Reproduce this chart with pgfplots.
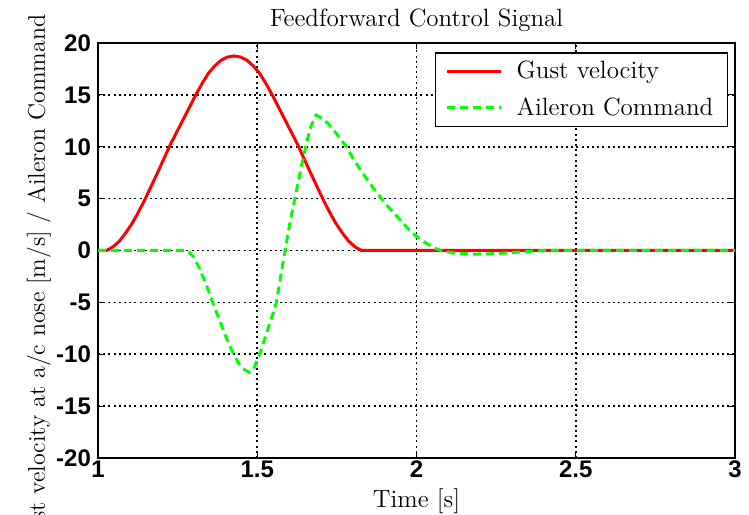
\documentclass[border=0pt]{standalone}
\usepackage{fontspec}
\usepackage{pgfplots}
\pgfplotsset{compat=1.18}
\newfontfamily\ticksf{Liberation Sans}

\definecolor{gustred}{RGB}{255,0,0}
\definecolor{ailgreen}{RGB}{0,255,0}

\begin{document}
\begin{tikzpicture}
\begin{axis}[
    scale only axis,
    width=318.5pt, height=207.5pt,
    xmin=1, xmax=3, ymin=-20, ymax=20,
    xtick={1,1.5,2,2.5,3},
    ytick={-20,-15,...,20},
    grid=major,
    major grid style={black, line width=0.8pt, dash pattern=on 1pt off 1.6pt},
    axis line style={black, line width=0.8pt},
    tick style={black, line width=0.6pt},
    major tick length=3pt,
    tick align=inside,
    /pgf/number format/assume math mode=true,
    tick label style={font=\ticksf\bfseries\fontsize{12}{14}\selectfont},
    xticklabel style={yshift=2pt},
    title={Feedforward Control Signal},
    title style={font=\fontsize{12.5}{15}\selectfont, at={(axis description cs:0.5,1)}, anchor=base, yshift=2pt},
    xlabel={Time [s]},
    xlabel style={font=\fontsize{12.5}{15}\selectfont, at={(axis description cs:0.5,-0.105)}, anchor=center},
    ylabel={Gust velocity at a/c nose [m/s] / Aileron Command},
    ylabel style={font=\fontsize{12}{14}\selectfont, at={(axis description cs:-0.093,1.085)}, anchor=east},
    legend style={at={(axis description cs:0.989,0.978)}, anchor=north east,
        draw=black, line width=0.75pt, fill=white,
        font=\fontsize{12.5}{15}\selectfont,
        inner xsep=5pt, inner ysep=2pt, row sep=4pt, cells={anchor=west}},
    legend image code/.code={\draw[#1] (0pt,0pt) -- (27pt,0pt); \path (32pt,0pt);},
]
% gust velocity
\addplot[gustred, line width=1.5pt] coordinates {
(1.0,0) (1.027,0) (1.047,0.35) (1.067,0.9) (1.087,1.7) (1.107,2.6)
(1.127,3.7) (1.147,4.9) (1.167,6.2) (1.187,7.5) (1.207,8.85)
(1.227,10.2) (1.247,11.4) (1.267,12.6) (1.287,13.8) (1.307,15.0)
(1.327,16.1) (1.347,17.1) (1.367,17.8) (1.387,18.35) (1.407,18.65)
(1.427,18.75) (1.447,18.65) (1.467,18.35) (1.487,17.8) (1.507,17.1)
(1.527,16.1) (1.547,15.0) (1.567,13.8) (1.587,12.6) (1.607,11.4)
(1.627,10.2) (1.647,8.85) (1.667,7.5) (1.687,6.2) (1.707,4.9)
(1.727,3.7) (1.747,2.6) (1.767,1.7) (1.787,0.9) (1.807,0.35)
(1.827,0) (2.5,0) (3.0,0)
};
\addlegendentry{Gust velocity}
% aileron command
\addplot[ailgreen, line width=1.5pt, dash pattern=on 4pt off 2.5pt] coordinates {
(1.0,0) (1.28,0) (1.30,-0.6) (1.32,-1.8) (1.34,-3.3) (1.36,-5.0)
(1.38,-6.6) (1.40,-8.2) (1.42,-9.6) (1.44,-10.8) (1.46,-11.5)
(1.475,-11.75) (1.49,-11.3) (1.51,-9.8) (1.53,-7.9) (1.55,-6.0)
(1.56,-5.0) (1.57,-3.2) (1.58,-1.3) (1.59,0.5) (1.60,2.2) (1.61,3.8)
(1.62,5.3) (1.63,6.8) (1.64,8.3) (1.65,9.7) (1.66,11.0) (1.67,12.1)
(1.685,13.05) (1.70,12.8) (1.72,12.3) (1.74,11.6) (1.76,10.8)
(1.78,10.0) (1.80,8.9) (1.83,7.5) (1.86,6.2) (1.89,5.0) (1.92,3.9)
(1.95,2.9) (1.98,1.9) (2.00,1.35) (2.03,0.7) (2.06,0.2) (2.08,-0.05)
(2.12,-0.25) (2.18,-0.35) (2.25,-0.3) (2.32,-0.15) (2.40,0) (3.0,0)
};
\addlegendentry{Aileron Command}
\coordinate (sw) at (rel axis cs:0,0);
\coordinate (ne) at (rel axis cs:1,1);
\end{axis}
\pgfresetboundingbox
\path[use as bounding box] ([shift={(-49pt,-28.5pt)}]sw) rectangle ([shift={(7pt,21.5pt)}]ne);
\end{tikzpicture}
\end{document}
